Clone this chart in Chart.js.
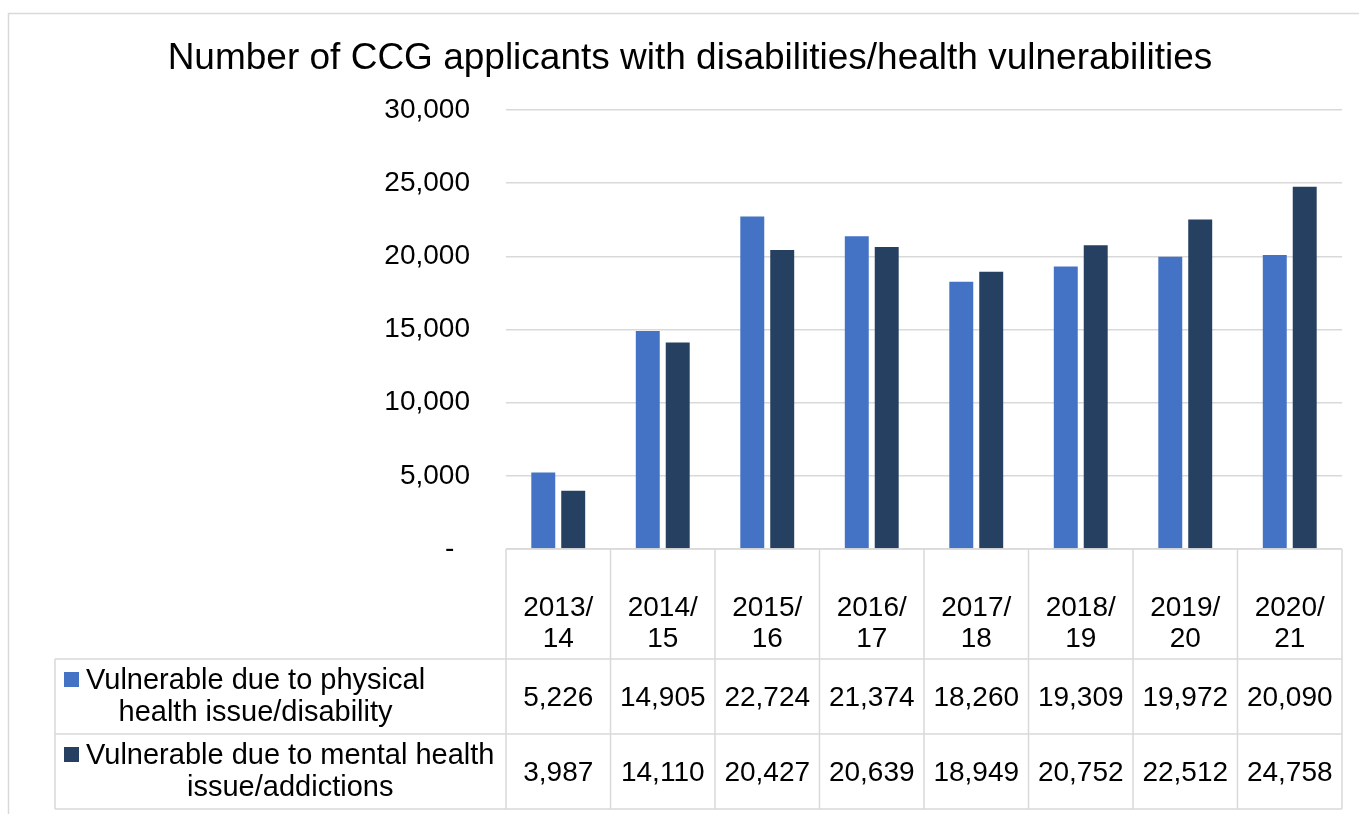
<!DOCTYPE html>
<html>
<head>
<meta charset="utf-8">
<title>CCG applicants</title>
<script src="https://cdn.jsdelivr.net/npm/chart.js@4"></script>
<style>
  html, body { margin: 0; padding: 0; background: #fff; }
  canvas { display: block; }
</style>
</head>
<body>
<canvas id="ccgChart" width="1359" height="814"></canvas>
<script>
// Data
const categories = ['2013/14', '2014/15', '2015/16', '2016/17', '2017/18', '2018/19', '2019/20', '2020/21'];
const physical = [5226, 14905, 22724, 21374, 18260, 19309, 19972, 20090];
const mental = [3987, 14110, 20427, 20639, 18949, 20752, 22512, 24758];
const seriesLines = [
  ['Vulnerable due to physical', 'health issue/disability'],
  ['Vulnerable due to mental health', 'issue/addictions']
];
const yTicks = [0, 5000, 10000, 15000, 20000, 25000, 30000];

const FONT = "'Liberation Sans', Arial, sans-serif";
const GRID = '#d9d9d9';
const colors = ['#4472C4', '#254061'];

const fmt = v => v.toLocaleString('en-US');

// frame around the chart + data table under the plot
const tablePlugin = {
  id: 'dataTable',
  beforeDraw(chart) {
    const c = chart.ctx;
    c.save();
    c.fillStyle = '#fff';
    c.fillRect(0, 0, chart.width, chart.height);
    c.strokeStyle = GRID;
    c.lineWidth = 1.5;
    c.beginPath();
    c.moveTo(8.5, chart.height);
    c.lineTo(8.5, 13.5);
    c.lineTo(chart.width, 13.5);
    c.stroke();
    c.restore();
  },
  afterDraw(chart) {
    const c = chart.ctx;
    const area = chart.chartArea;
    const n = categories.length;
    const step = (area.right - area.left) / n;
    const top = area.bottom;
    const row1 = top + 110, row2 = row1 + 75, bottom = row2 + 75;
    const leftCol = 55;

    c.save();
    c.strokeStyle = GRID;
    c.lineWidth = 1.5;
    c.beginPath();
    for (let i = 0; i <= n; i++) {
      const x = area.left + i * step;
      c.moveTo(x, top);
      c.lineTo(x, bottom);
    }
    c.moveTo(area.left, top);
    c.lineTo(area.right, top);
    [row1, row2, bottom].forEach(y => { c.moveTo(leftCol, y); c.lineTo(area.right, y); });
    c.moveTo(leftCol, row1);
    c.lineTo(leftCol, bottom);
    c.stroke();

    c.fillStyle = '#000';
    c.font = '28px ' + FONT;
    c.textAlign = 'center';
    c.textBaseline = 'middle';

    // category header, split after the slash
    categories.forEach((cat, i) => {
      const x = area.left + (i + 0.5) * step;
      const parts = cat.split('/');
      c.fillText(parts[0] + '/', x, top + 59);
      c.fillText(parts[1], x, top + 90);
    });

    // values
    [physical, mental].forEach((vals, r) => {
      const y = (r === 0 ? row1 : row2) + 39;
      vals.forEach((v, i) => {
        c.fillText(fmt(v), area.left + (i + 0.5) * step, y);
      });
    });

    // series keys
    c.font = '29px ' + FONT;
    seriesLines.forEach((lines, r) => {
      const rowTop = r === 0 ? row1 : row2;
      const maxW = Math.max(...lines.map(l => c.measureText(l).width));
      const cx = 86 + maxW / 2;
      c.fillStyle = colors[r];
      c.fillRect(64, rowTop + 13, 15, 15);
      c.fillStyle = '#000';
      lines.forEach((l, k) => c.fillText(l, cx, rowTop + 22 + k * 32));
    });
    c.restore();
  }
};

const ctx = document.getElementById('ccgChart');

new Chart(ctx, {
  type: 'bar',
  data: {
    labels: categories,
    datasets: [
      { label: seriesLines[0].join(' '), data: physical, backgroundColor: colors[0] },
      { label: seriesLines[1].join(' '), data: mental, backgroundColor: colors[1] }
    ]
  },
  options: {
    responsive: false,
    animation: false,
    categoryPercentage: 0.573,
    barPercentage: 0.8,
    layout: { padding: { left: 38, right: 17, top: 0, bottom: 0 } },
    plugins: {
      legend: { display: false },
      tooltip: { enabled: false },
      title: {
        display: true,
        text: 'Number of CCG applicants with disabilities/health vulnerabilities',
        color: '#000',
        font: { family: FONT, size: 37, weight: 'normal', lineHeight: 1.2 },
        padding: { top: 37, bottom: 28.6 }
      }
    },
    scales: {
      x: {
        grid: { display: false },
        border: { display: false },
        ticks: { display: false },
        afterFit(scale) { scale.height = 265; }
      },
      y: {
        min: 0,
        max: 30000,
        afterBuildTicks(scale) { scale.ticks = yTicks.map(v => ({ value: v })); },
        grid: { color: GRID, lineWidth: 1.5, drawTicks: false },
        border: { display: false },
        ticks: {
          color: '#000',
          padding: 36,
          font: { family: FONT, size: 28 },
          callback: v => (v === 0 ? '-  ' : fmt(v))
        },
        afterFit(scale) { scale.width = 468; }
      }
    }
  },
  plugins: [tablePlugin]
});
</script>
</body>
</html>
